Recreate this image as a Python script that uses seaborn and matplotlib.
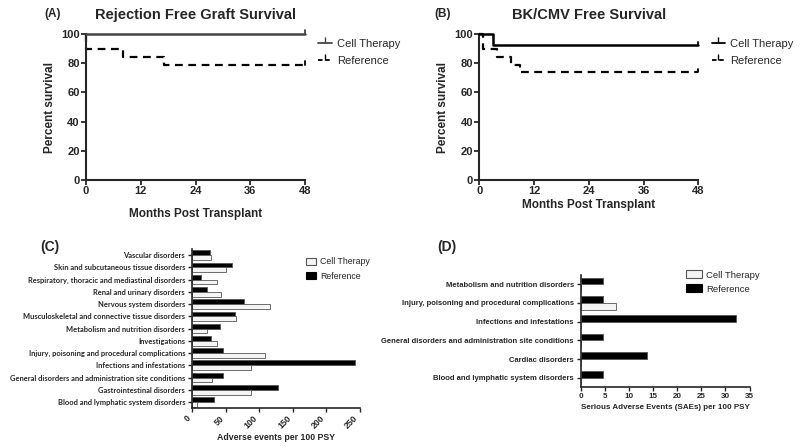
import pandas as pd
import matplotlib.pyplot as plt
import seaborn as sns
from matplotlib.patches import Patch
from matplotlib.lines import Line2D

# survival curves (months, percent survival)
a_ct_t = [0, 48]
a_ct_s = [100, 100]
a_ref_t = [0, 0.1, 8, 17, 48]
a_ref_s = [100, 89.5, 84.2, 78.9, 78.9]

b_ct_t = [0, 3, 48]
b_ct_s = [100, 92.3, 92.3]
b_ref_t = [0, 0.8, 4, 7, 9, 48]
b_ref_s = [100, 89.5, 84.2, 78.9, 73.7, 73.7]

# adverse events per 100 PSY
c_categories = ['Vascular disorders',
                'Skin and subcutaneous tissue disorders',
                'Respiratory, thoracic and mediastinal disorders',
                'Renal and urinary disorders',
                'Nervous system disorders',
                'Musculoskeletal and connective tissue disorders',
                'Metabolism and nutrition disorders',
                'Investigations',
                'Injury, poisoning and procedural complications',
                'Infections and infestations',
                'General disorders and administration site conditions',
                'Gastrointestinal disorders',
                'Blood and lymphatic system disorders']
c_ref = [27.5, 59.5, 14, 23, 78, 64.5, 41.5, 28, 46, 243, 46, 128, 32.5]
c_ct = [29, 50.5, 36.5, 43, 116.5, 66, 22, 36.5, 109, 87.5, 29.5, 87.5, 7]

# serious adverse events per 100 PSY
d_categories = ['Metabolism and nutrition disorders',
                'Injury, poisoning and procedural complications',
                'Infections and infestations',
                'General disorders and administration site conditions',
                'Cardiac disorders',
                'Blood and lymphatic system disorders']
d_ref = [4.6, 4.6, 32.2, 4.6, 13.8, 4.6]
d_ct = [0, 7.2, 0, 0, 0, 0]

sns.set_style('ticks')
plt.rcParams['font.family'] = ['Liberation Sans', 'DejaVu Sans']

fig = plt.figure(figsize=(8, 4.47), dpi=100)

ax_a = fig.add_axes([0.1075, 0.597, 0.274, 0.327])
ax_b = fig.add_axes([0.599, 0.597, 0.274, 0.327])
ax_c = fig.add_axes([0.24, 0.087, 0.21, 0.356])
ax_d = fig.add_axes([0.726, 0.134, 0.211, 0.251])


def survival_panel(ax, ct_t, ct_s, ref_t, ref_s, ct_color, title, xpad):
    sns.lineplot(x=ct_t, y=ct_s, ax=ax, drawstyle='steps-post', color=ct_color,
                 linewidth=1.8, estimator=None, clip_on=False, zorder=5)
    sns.lineplot(x=ref_t, y=ref_s, ax=ax, drawstyle='steps-post', color='black',
                 linewidth=1.6, linestyle=(0, (3.5, 2.5)), estimator=None, clip_on=False)
    # censor ticks at the end of follow-up
    ax.plot([48, 48], [ct_s[-1], ct_s[-1] + 2.5], color=ct_color, lw=1.3, clip_on=False)
    ax.plot([48, 48], [ref_s[-1], ref_s[-1] + 2.5], color='black', lw=1.3, clip_on=False)
    ax.set_xlim(0, 48)
    ax.set_ylim(0, 100)
    ax.set_xticks([0, 12, 24, 36, 48])
    ax.set_yticks([0, 20, 40, 60, 80, 100])
    sns.despine(ax=ax)
    for s in ['left', 'bottom']:
        ax.spines[s].set_linewidth(1.5)
    ax.tick_params(width=1.3, length=3.5, labelsize=8, pad=1)
    for lab in ax.get_xticklabels() + ax.get_yticklabels():
        lab.set_fontweight('bold')
    ax.set_xlabel('Months Post Transplant', fontsize=8.5, fontweight='bold', labelpad=xpad)
    ax.set_ylabel('Percent survival', fontsize=8.5, fontweight='bold', labelpad=4)
    ax.set_title(title, fontsize=10.5, fontweight='bold', pad=11)
    handles = [Line2D([0], [0], color=ct_color, lw=1.3, marker=2, markersize=4),
               Line2D([0], [0], color='black', lw=1.3, linestyle=(0, (2.5, 1.5)), marker=2, markersize=4)]
    ax.legend(handles, ['Cell Therapy', 'Reference'], loc='upper left',
              bbox_to_anchor=(1.06, 0.965), frameon=False, fontsize=8,
              handlelength=1.2, handletextpad=0.5, borderpad=0, borderaxespad=0,
              labelspacing=0.6)


survival_panel(ax_a, a_ct_t, a_ct_s, a_ref_t, a_ref_s, '#444444',
               'Rejection Free Graft Survival', 8)
survival_panel(ax_b, b_ct_t, b_ct_s, b_ref_t, b_ref_s, 'black',
               'BK/CMV Free Survival', 2)

fig.text(0.066, 0.968, '(A)', fontsize=8.5, fontweight='bold', ha='center', va='center')
fig.text(0.553, 0.968, '(B)', fontsize=8.5, fontweight='bold', ha='center', va='center')
fig.text(0.062, 0.447, '(C)', fontsize=10, fontweight='bold', ha='center', va='center')
fig.text(0.558, 0.447, '(D)', fontsize=10, fontweight='bold', ha='center', va='center')

palette = {'Reference': 'black', 'Cell Therapy': '#f4f4f4'}


def bar_panel(ax, cats, ref, ct, width, label_font, label_size):
    df = pd.DataFrame({'category': cats * 2,
                       'value': ref + ct,
                       'group': ['Reference'] * len(cats) + ['Cell Therapy'] * len(cats)})
    sns.barplot(data=df, x='value', y='category', hue='group',
                hue_order=['Reference', 'Cell Therapy'], palette=palette,
                order=cats, orient='h', width=width, edgecolor='#555555',
                linewidth=0.6, ax=ax, legend=False)
    sns.despine(ax=ax)
    ax.spines['left'].set_linewidth(1.2)
    ax.spines['bottom'].set_linewidth(1.2)
    ax.set_ylabel('')
    ax.tick_params(axis='y', length=3, width=1.0, pad=2)
    ax.tick_params(axis='x', length=3, width=1.0, pad=1)
    for lab in ax.get_yticklabels():
        lab.set_fontfamily(label_font)
        lab.set_fontweight('bold')
        lab.set_fontsize(label_size)
    handles = [Patch(facecolor='#f4f4f4', edgecolor='#555555', linewidth=0.8),
               Patch(facecolor='black', edgecolor='black', linewidth=0.8)]
    return handles


h = bar_panel(ax_c, c_categories, c_ref, c_ct, 0.78, 'Lato', 5.4)
ax_c.set_xlim(0, 250)
ax_c.set_xticks([0, 50, 100, 150, 200, 250])
ax_c.set_xticklabels(['0', '50', '100', '150', '200', '250'], rotation=45,
                     ha='right', va='top', fontsize=6.3, fontweight='bold')
ax_c.set_xlabel('Adverse events per 100 PSY', fontsize=6.3, fontweight='bold', labelpad=2)
ax_c.legend(h, ['Cell Therapy', 'Reference'], loc='upper left',
            bbox_to_anchor=(0.382, 0.424), bbox_transform=fig.transFigure,
            frameon=False, fontsize=6.3, handlelength=1.2, handleheight=0.9,
            handletextpad=0.5, borderpad=0, borderaxespad=0, labelspacing=0.6)

h = bar_panel(ax_d, d_categories, d_ref, d_ct, 0.72, 'Liberation Sans', 5.5)
ax_d.set_xlim(0, 35)
ax_d.set_xticks([0, 5, 10, 15, 20, 25, 30, 35])
for lab in ax_d.get_xticklabels():
    lab.set_fontweight('bold')
    lab.set_fontsize(5.8)
ax_d.set_xlabel('Serious Adverse Events (SAEs) per 100 PSY', fontsize=5.8,
                fontweight='bold', labelpad=3)
ax_d.legend(h, ['Cell Therapy', 'Reference'], loc='upper left',
            bbox_to_anchor=(0.858, 0.395), bbox_transform=fig.transFigure,
            frameon=False, fontsize=6.8, handlelength=1.6, handleheight=0.9,
            handletextpad=0.5, borderpad=0, borderaxespad=0, labelspacing=0.5)

plt.savefig('out.png', dpi=100)
